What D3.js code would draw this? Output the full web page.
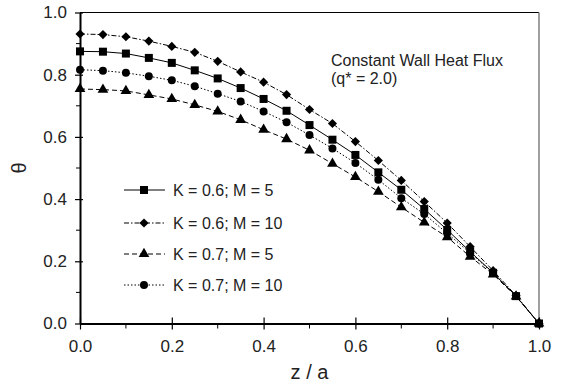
<!DOCTYPE html>
<html>
<head>
<meta charset="utf-8">
<script src="https://cdn.jsdelivr.net/npm/d3@7"></script>
<style>
  body { margin: 0; background: #fff; }
  svg { font-family: "Liberation Sans", Arial, sans-serif; }
</style>
</head>
<body>
<div id="chart"></div>
<script>
// Data
const zValues = [0, 0.05, 0.1, 0.15, 0.2, 0.25, 0.3, 0.35, 0.4, 0.45, 0.5,
                 0.55, 0.6, 0.65, 0.7, 0.75, 0.8, 0.85, 0.9, 0.95, 1.0];
const k06m5  = [0.875, 0.874, 0.868, 0.854, 0.838, 0.814, 0.788, 0.757, 0.722, 0.684, 0.638,
                0.591, 0.542, 0.486, 0.430, 0.368, 0.301, 0.231, 0.163, 0.088, 0.0];
const k06m10 = [0.931, 0.929, 0.922, 0.908, 0.891, 0.872, 0.843, 0.809, 0.776, 0.736, 0.688,
                0.643, 0.585, 0.524, 0.460, 0.392, 0.323, 0.247, 0.170, 0.090, 0.0];
const k07m5  = [0.754, 0.752, 0.748, 0.735, 0.722, 0.703, 0.682, 0.655, 0.623, 0.593, 0.557,
                0.514, 0.471, 0.424, 0.374, 0.325, 0.278, 0.215, 0.158, 0.087, 0.0];
const k07m10 = [0.816, 0.813, 0.806, 0.795, 0.782, 0.763, 0.739, 0.714, 0.682, 0.647, 0.606,
                0.563, 0.516, 0.462, 0.403, 0.352, 0.290, 0.227, 0.162, 0.088, 0.0];
const seriesNames = ["K = 0.6; M = 5", "K = 0.6; M = 10", "K = 0.7; M = 5", "K = 0.7; M = 10"];
const xTicks = [0, 0.2, 0.4, 0.6, 0.8, 1.0];
const yTicks = [0, 0.2, 0.4, 0.6, 0.8, 1.0];

// diamond = square turned 45 degrees
const series = [
    { name: seriesNames[0], values: k06m5,  symbol: d3.symbolSquare,   size: 64, rot: 0,  dash: null },
    { name: seriesNames[1], values: k06m10, symbol: d3.symbolSquare,   size: 42, rot: 45, dash: "5,2,1.5,2" },
    { name: seriesNames[2], values: k07m5,  symbol: d3.symbolTriangle, size: 50, rot: 0,  dash: "5,3" },
    { name: seriesNames[3], values: k07m10, symbol: d3.symbolCircle,   size: 50, rot: 0,  dash: "1.5,2" }
];

const W = 564, H = 384;
const margin = { top: 12.5, right: 25, bottom: 60.5, left: 80 };
const width = W - margin.left - margin.right;
const height = H - margin.top - margin.bottom;

const svg = d3.select("#chart").append("svg")
    .attr("width", W).attr("height", H);
const g = svg.append("g")
    .attr("transform", `translate(${margin.left},${margin.top})`);

const x = d3.scaleLinear().domain([0, 1]).range([0, width]);
const y = d3.scaleLinear().domain([0, 1]).range([height, 0]);

// Plot frame (top black, right grey)
g.append("line").attr("x1", 0).attr("x2", width).attr("y1", 0).attr("y2", 0)
    .attr("stroke", "#000").attr("stroke-width", 1);
g.append("line").attr("x1", width).attr("x2", width).attr("y1", 0).attr("y2", height)
    .attr("stroke", "#808080").attr("stroke-width", 1.5);

// Minor ticks
const minor = d3.range(0.1, 1, 0.2);
g.selectAll(".xminor").data(minor).enter().append("line")
    .attr("x1", d => x(d)).attr("x2", d => x(d))
    .attr("y1", height).attr("y2", height + 5)
    .attr("stroke", "#000").attr("stroke-width", 1);
g.selectAll(".yminor").data(minor).enter().append("line")
    .attr("x1", -4).attr("x2", 0)
    .attr("y1", d => y(d)).attr("y2", d => y(d))
    .attr("stroke", "#000").attr("stroke-width", 1);

// Axes
const xAxis = g.append("g")
    .attr("transform", `translate(0,${height})`)
    .call(d3.axisBottom(x).tickValues(xTicks).tickFormat(d3.format(".1f"))
        .tickSize(6).tickSizeOuter(0).tickPadding(10));
const yAxis = g.append("g")
    .call(d3.axisLeft(y).tickValues(yTicks).tickFormat(d3.format(".1f"))
        .tickSize(6).tickSizeOuter(0).tickPadding(7));

[xAxis, yAxis].forEach(a => {
    a.select(".domain").attr("stroke", "#000").attr("stroke-width", 2);
    a.selectAll("text").attr("font-size", 17).attr("fill", "#222")
        .attr("font-family", "Liberation Sans, Arial, sans-serif");
});
// major ticks cross the axis line
xAxis.selectAll(".tick line").attr("y1", -6).attr("y2", 6).attr("stroke-width", 1.2);
yAxis.selectAll(".tick line").attr("x1", 3).attr("x2", -5).attr("stroke-width", 1.2);

// Axis titles
svg.append("text")
    .attr("x", margin.left + width / 2).attr("y", 379)
    .attr("text-anchor", "middle").attr("font-size", 20).attr("fill", "#222")
    .text("z / a");
svg.append("text")
    .attr("transform", `translate(26,${margin.top + height / 2}) rotate(-90)`)
    .attr("text-anchor", "middle").attr("font-size", 20).attr("fill", "#222")
    .text("θ");

// Series lines and markers
const line = d3.line()
    .x((d, i) => x(zValues[i]))
    .y(d => y(d));

series.forEach(s => {
    g.append("path")
        .datum(s.values)
        .attr("fill", "none")
        .attr("stroke", "#000")
        .attr("stroke-width", 1)
        .attr("stroke-dasharray", s.dash)
        .attr("d", line);
});
series.forEach(s => {
    g.selectAll(null).data(s.values).enter().append("path")
        .attr("d", d3.symbol().type(s.symbol).size(s.size))
        .attr("transform", (d, i) => `translate(${x(zValues[i])},${y(d)}) rotate(${s.rot})`)
        .attr("fill", "#000");
});

// Legend
const legend = svg.append("g");
const legendY = [190, 223, 254, 285];
series.forEach((s, i) => {
    const row = legend.append("g").attr("transform", `translate(0,${legendY[i]})`);
    row.append("line")
        .attr("x1", 124).attr("x2", 165).attr("y1", 0).attr("y2", 0)
        .attr("stroke", "#000").attr("stroke-width", 1)
        .attr("stroke-dasharray", s.dash);
    row.append("path")
        .attr("d", d3.symbol().type(s.symbol).size(s.size))
        .attr("transform", `translate(144,0) rotate(${s.rot})`)
        .attr("fill", "#000");
    row.append("text")
        .attr("x", 173).attr("y", 6)
        .attr("font-size", 16).attr("fill", "#222")
        .text(s.name);
});

// Annotation
const note = svg.append("text").attr("font-size", 16).attr("fill", "#222");
note.append("tspan").attr("x", 331).attr("y", 66).text("Constant Wall Heat Flux");
note.append("tspan").attr("x", 331).attr("y", 84).text("(q* = 2.0)");
</script>
</body>
</html>
